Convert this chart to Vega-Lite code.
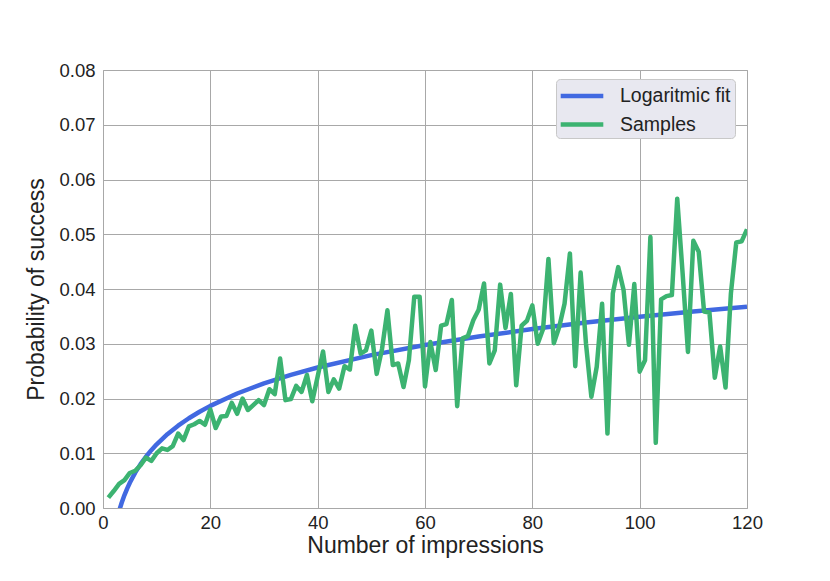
{
  "$schema": "https://vega.github.io/schema/vega-lite/v6.json",
  "autosize": "none",
  "width": 644,
  "height": 438,
  "padding": {"left": 103, "top": 70, "right": 83, "bottom": 73},
  "background": "white",
  "config": {
    "font": "Liberation Sans",
    "view": {"stroke": "#b0b0b0", "strokeWidth": 1},
    "axis": {
      "domain": false,
      "ticks": false,
      "grid": true,
      "gridColor": "#a8a8a8",
      "gridWidth": 1,
      "labelFont": "Liberation Sans",
      "labelFontSize": 18.5,
      "labelColor": "#222222",
      "titleFont": "Liberation Sans",
      "titleFontSize": 23,
      "titleFontWeight": "normal",
      "titleColor": "#222222"
    }
  },
  "data": {
    "values": [
      {"series": "Logaritmic fit", "x": 3.0, "y": -0.00055},
      {"series": "Logaritmic fit", "x": 3.5, "y": 0.00101},
      {"series": "Logaritmic fit", "x": 4, "y": 0.00236},
      {"series": "Logaritmic fit", "x": 4.5, "y": 0.00355},
      {"series": "Logaritmic fit", "x": 5, "y": 0.00462},
      {"series": "Logaritmic fit", "x": 6, "y": 0.00646},
      {"series": "Logaritmic fit", "x": 7, "y": 0.00802},
      {"series": "Logaritmic fit", "x": 8, "y": 0.00937},
      {"series": "Logaritmic fit", "x": 9, "y": 0.01056},
      {"series": "Logaritmic fit", "x": 10, "y": 0.01163},
      {"series": "Logaritmic fit", "x": 12, "y": 0.01348},
      {"series": "Logaritmic fit", "x": 14, "y": 0.01504},
      {"series": "Logaritmic fit", "x": 16, "y": 0.01639},
      {"series": "Logaritmic fit", "x": 18, "y": 0.01758},
      {"series": "Logaritmic fit", "x": 20, "y": 0.01865},
      {"series": "Logaritmic fit", "x": 25, "y": 0.02091},
      {"series": "Logaritmic fit", "x": 30, "y": 0.02275},
      {"series": "Logaritmic fit", "x": 35, "y": 0.02431},
      {"series": "Logaritmic fit", "x": 40, "y": 0.02566},
      {"series": "Logaritmic fit", "x": 50, "y": 0.02792},
      {"series": "Logaritmic fit", "x": 60, "y": 0.02977},
      {"series": "Logaritmic fit", "x": 70, "y": 0.03133},
      {"series": "Logaritmic fit", "x": 80, "y": 0.03268},
      {"series": "Logaritmic fit", "x": 90, "y": 0.03387},
      {"series": "Logaritmic fit", "x": 100, "y": 0.03494},
      {"series": "Logaritmic fit", "x": 110, "y": 0.03590},
      {"series": "Logaritmic fit", "x": 120, "y": 0.03678},
      {"series": "Samples", "x": 1, "y": 0.0019},
      {"series": "Samples", "x": 2, "y": 0.0031},
      {"series": "Samples", "x": 3, "y": 0.0044},
      {"series": "Samples", "x": 4, "y": 0.0051},
      {"series": "Samples", "x": 5, "y": 0.0064},
      {"series": "Samples", "x": 6, "y": 0.0068},
      {"series": "Samples", "x": 7, "y": 0.0078},
      {"series": "Samples", "x": 8, "y": 0.0092},
      {"series": "Samples", "x": 9, "y": 0.0086},
      {"series": "Samples", "x": 10, "y": 0.0100},
      {"series": "Samples", "x": 11, "y": 0.0109},
      {"series": "Samples", "x": 12, "y": 0.0106},
      {"series": "Samples", "x": 13, "y": 0.0113},
      {"series": "Samples", "x": 14, "y": 0.0136},
      {"series": "Samples", "x": 15, "y": 0.0124},
      {"series": "Samples", "x": 16, "y": 0.0149},
      {"series": "Samples", "x": 17, "y": 0.0153},
      {"series": "Samples", "x": 18, "y": 0.0159},
      {"series": "Samples", "x": 19, "y": 0.0152},
      {"series": "Samples", "x": 20, "y": 0.0180},
      {"series": "Samples", "x": 21, "y": 0.0146},
      {"series": "Samples", "x": 22, "y": 0.0167},
      {"series": "Samples", "x": 23, "y": 0.0168},
      {"series": "Samples", "x": 24, "y": 0.0192},
      {"series": "Samples", "x": 25, "y": 0.0172},
      {"series": "Samples", "x": 26, "y": 0.0200},
      {"series": "Samples", "x": 27, "y": 0.0179},
      {"series": "Samples", "x": 28, "y": 0.0188},
      {"series": "Samples", "x": 29, "y": 0.0197},
      {"series": "Samples", "x": 30, "y": 0.0188},
      {"series": "Samples", "x": 31, "y": 0.0217},
      {"series": "Samples", "x": 32, "y": 0.0208},
      {"series": "Samples", "x": 33, "y": 0.0273},
      {"series": "Samples", "x": 34, "y": 0.0197},
      {"series": "Samples", "x": 35, "y": 0.0199},
      {"series": "Samples", "x": 36, "y": 0.0223},
      {"series": "Samples", "x": 37, "y": 0.0212},
      {"series": "Samples", "x": 38, "y": 0.0243},
      {"series": "Samples", "x": 39, "y": 0.0195},
      {"series": "Samples", "x": 40, "y": 0.0240},
      {"series": "Samples", "x": 41, "y": 0.0286},
      {"series": "Samples", "x": 42, "y": 0.0212},
      {"series": "Samples", "x": 43, "y": 0.0235},
      {"series": "Samples", "x": 44, "y": 0.0218},
      {"series": "Samples", "x": 45, "y": 0.0259},
      {"series": "Samples", "x": 46, "y": 0.0253},
      {"series": "Samples", "x": 47, "y": 0.0333},
      {"series": "Samples", "x": 48, "y": 0.0282},
      {"series": "Samples", "x": 49, "y": 0.0288},
      {"series": "Samples", "x": 50, "y": 0.0324},
      {"series": "Samples", "x": 51, "y": 0.0245},
      {"series": "Samples", "x": 52, "y": 0.0291},
      {"series": "Samples", "x": 53, "y": 0.0361},
      {"series": "Samples", "x": 54, "y": 0.0261},
      {"series": "Samples", "x": 55, "y": 0.0264},
      {"series": "Samples", "x": 56, "y": 0.0221},
      {"series": "Samples", "x": 57, "y": 0.0270},
      {"series": "Samples", "x": 58, "y": 0.0386},
      {"series": "Samples", "x": 59, "y": 0.0386},
      {"series": "Samples", "x": 60, "y": 0.0222},
      {"series": "Samples", "x": 61, "y": 0.0303},
      {"series": "Samples", "x": 62, "y": 0.0252},
      {"series": "Samples", "x": 63, "y": 0.0333},
      {"series": "Samples", "x": 64, "y": 0.0336},
      {"series": "Samples", "x": 65, "y": 0.0380},
      {"series": "Samples", "x": 66, "y": 0.0186},
      {"series": "Samples", "x": 67, "y": 0.0310},
      {"series": "Samples", "x": 68, "y": 0.0314},
      {"series": "Samples", "x": 69, "y": 0.0343},
      {"series": "Samples", "x": 70, "y": 0.0362},
      {"series": "Samples", "x": 71, "y": 0.0410},
      {"series": "Samples", "x": 72, "y": 0.0264},
      {"series": "Samples", "x": 73, "y": 0.0288},
      {"series": "Samples", "x": 74, "y": 0.0408},
      {"series": "Samples", "x": 75, "y": 0.0329},
      {"series": "Samples", "x": 76, "y": 0.0391},
      {"series": "Samples", "x": 77, "y": 0.0224},
      {"series": "Samples", "x": 78, "y": 0.0333},
      {"series": "Samples", "x": 79, "y": 0.0342},
      {"series": "Samples", "x": 80, "y": 0.0370},
      {"series": "Samples", "x": 81, "y": 0.0300},
      {"series": "Samples", "x": 82, "y": 0.0327},
      {"series": "Samples", "x": 83, "y": 0.0455},
      {"series": "Samples", "x": 84, "y": 0.0301},
      {"series": "Samples", "x": 85, "y": 0.0330},
      {"series": "Samples", "x": 86, "y": 0.0373},
      {"series": "Samples", "x": 87, "y": 0.0465},
      {"series": "Samples", "x": 88, "y": 0.0259},
      {"series": "Samples", "x": 89, "y": 0.0430},
      {"series": "Samples", "x": 90, "y": 0.0300},
      {"series": "Samples", "x": 91, "y": 0.0203},
      {"series": "Samples", "x": 92, "y": 0.0258},
      {"series": "Samples", "x": 93, "y": 0.0373},
      {"series": "Samples", "x": 94, "y": 0.0136},
      {"series": "Samples", "x": 95, "y": 0.0392},
      {"series": "Samples", "x": 96, "y": 0.0440},
      {"series": "Samples", "x": 97, "y": 0.0398},
      {"series": "Samples", "x": 98, "y": 0.0298},
      {"series": "Samples", "x": 99, "y": 0.0409},
      {"series": "Samples", "x": 100, "y": 0.0249},
      {"series": "Samples", "x": 101, "y": 0.0270},
      {"series": "Samples", "x": 102, "y": 0.0495},
      {"series": "Samples", "x": 103, "y": 0.0119},
      {"series": "Samples", "x": 104, "y": 0.0381},
      {"series": "Samples", "x": 105, "y": 0.0387},
      {"series": "Samples", "x": 106, "y": 0.0389},
      {"series": "Samples", "x": 107, "y": 0.0565},
      {"series": "Samples", "x": 108, "y": 0.0429},
      {"series": "Samples", "x": 109, "y": 0.0285},
      {"series": "Samples", "x": 110, "y": 0.0488},
      {"series": "Samples", "x": 111, "y": 0.0468},
      {"series": "Samples", "x": 112, "y": 0.0359},
      {"series": "Samples", "x": 113, "y": 0.0357},
      {"series": "Samples", "x": 114, "y": 0.0238},
      {"series": "Samples", "x": 115, "y": 0.0295},
      {"series": "Samples", "x": 116, "y": 0.0220},
      {"series": "Samples", "x": 117, "y": 0.0392},
      {"series": "Samples", "x": 118, "y": 0.0485},
      {"series": "Samples", "x": 119, "y": 0.0487},
      {"series": "Samples", "x": 120, "y": 0.0509}
    ]
  },
  "mark": {"type": "line", "strokeWidth": 4.5, "clip": true, "interpolate": "linear", "strokeJoin": "round"},
  "encoding": {
    "x": {
      "field": "x",
      "type": "quantitative",
      "scale": {"domain": [0, 120], "nice": false, "zero": false},
      "axis": {"title": "Number of impressions", "values": [0, 20, 40, 60, 80, 100, 120], "labelPadding": 5, "titlePadding": 3, "labelFlush": false}
    },
    "y": {
      "field": "y",
      "type": "quantitative",
      "scale": {"domain": [0, 0.08], "nice": false},
      "axis": {"title": "Probability of success", "format": ".2f", "values": [0, 0.01, 0.02, 0.03, 0.04, 0.05, 0.06, 0.07, 0.08], "labelPadding": 8, "titlePadding": 10, "labelFlush": false}
    },
    "color": {
      "field": "series",
      "type": "nominal",
      "scale": {"domain": ["Logaritmic fit", "Samples"], "range": ["#4169E1", "#3CB371"]},
      "legend": {
        "title": null,
        "orient": "none",
        "legendX": 453,
        "legendY": 9,
        "symbolType": "M-2,0H2",
        "symbolSize": 454,
        "symbolStrokeWidth": 4.5,
        "symbolOffset": 9,
        "labelFontSize": 19.5,
        "labelFont": "Liberation Sans",
        "labelColor": "#222222",
        "labelOffset": 25,
        "rowPadding": 5.5,
        "padding": 4,
        "fillColor": "#e8e8f0",
        "strokeColor": "#c8c8c8",
        "cornerRadius": 4
      }
    },
    "order": {"field": "x", "type": "quantitative"}
  }
}
